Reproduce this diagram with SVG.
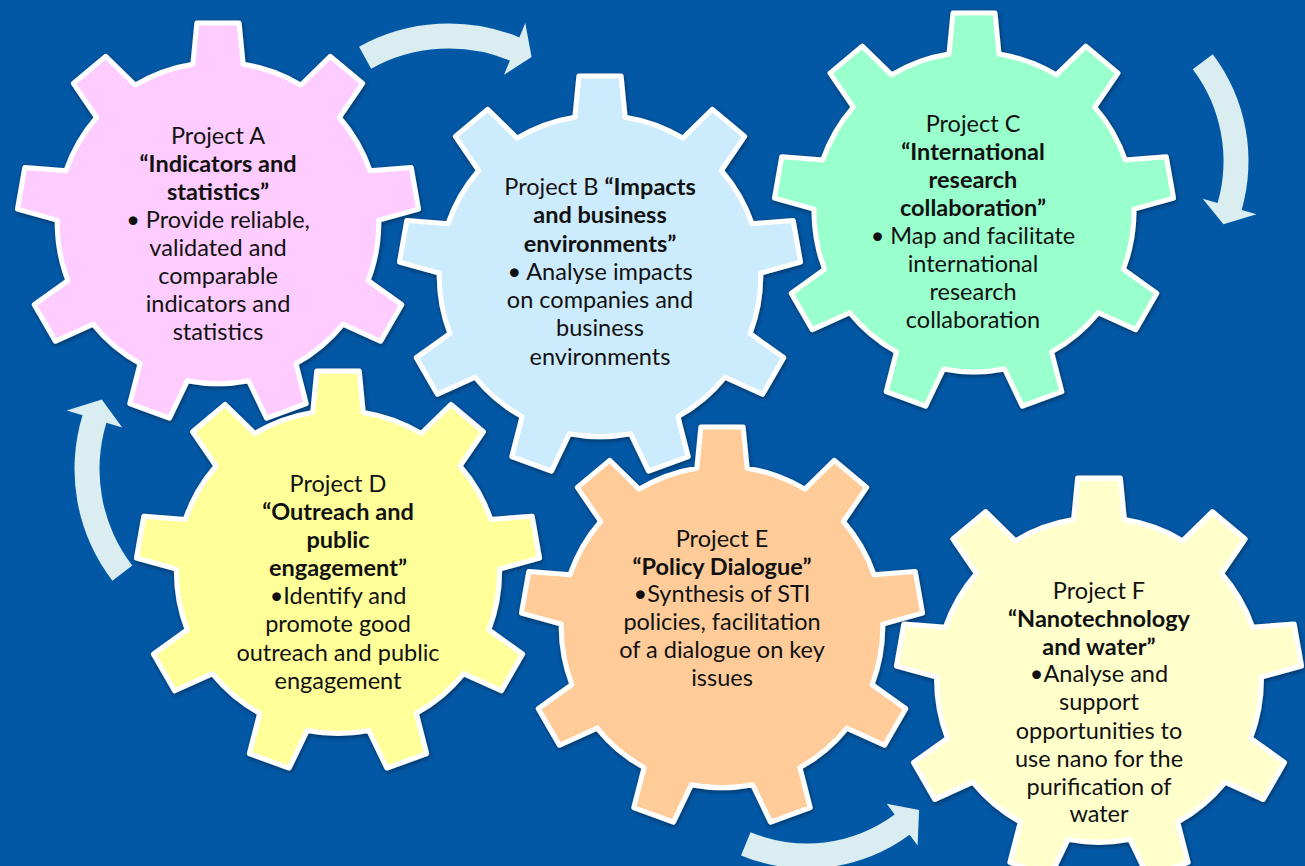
<svg xmlns="http://www.w3.org/2000/svg" width="1305" height="866" viewBox="0 0 1305 866">
<defs>
<style>
.bg{fill:#0358A6}
.gear{stroke:#ffffff;stroke-width:2.5;stroke-linejoin:round;filter:url(#sh)}
.t{font-family:Lato,'Liberation Sans',sans-serif;font-size:23.5px;fill:#111;text-anchor:middle}
.b{font-weight:bold}
.arrow{fill:#DAEDF1}
</style>
<filter id="sh" x="-10%" y="-10%" width="120%" height="120%">
<feDropShadow dx="0.4" dy="0.8" stdDeviation="1.2" flood-color="#000" flood-opacity="0.45"/>
</filter>
<path id="g" d="M-12.5,-79 L-10.5,-99.45 L10.5,-99.45 L12.5,-79 A80,80 0 0 1 41.2,-68.55 L55.88,-82.93 L71.97,-69.43 L60.36,-52.48 A80,80 0 0 1 75.63,-26.03 L96.12,-27.61 L99.76,-6.93 L79.97,-1.41 A80,80 0 0 1 74.67,28.67 L91.38,40.63 L80.88,58.82 L62.17,50.33 A80,80 0 0 1 38.77,69.96 L43.88,89.86 L24.15,97.04 L15.27,78.51 A80,80 0 0 1 -15.27,78.51 L-24.15,97.04 L-43.88,89.86 L-38.77,69.96 A80,80 0 0 1 -62.17,50.33 L-80.88,58.82 L-91.38,40.63 L-74.67,28.67 A80,80 0 0 1 -79.97,-1.41 L-99.76,-6.93 L-96.12,-27.61 L-75.63,-26.03 A80,80 0 0 1 -60.36,-52.48 L-71.97,-69.43 L-55.88,-82.93 L-41.2,-68.55 A80,80 0 0 1 -12.5,-79 Z"/>
</defs>
<rect class="bg" x="0" y="0" width="1305" height="866"/>

<g id="gear-a">
<use href="#g" class="gear" fill="#FFCCFF" transform="translate(218,223) scale(2.01)"/>
<text class="t" x="218" y="144">Project A</text>
<text class="t b" x="218" y="172">“Indicators and</text>
<text class="t b" x="218" y="200">statistics”</text>
<text class="t" x="218" y="228">• Provide reliable,</text>
<text class="t" x="218" y="256">validated and</text>
<text class="t" x="218" y="284">comparable</text>
<text class="t" x="218" y="312">indicators and</text>
<text class="t" x="218" y="340">statistics</text>
</g>

<g id="gear-b">
<use href="#g" class="gear" fill="#CCEBFD" transform="translate(600,276) scale(2.01)"/>
<text class="t" x="600" y="195">Project B <tspan class="b">“Impacts</tspan></text>
<text class="t b" x="600" y="223">and business</text>
<text class="t b" x="600" y="252">environments”</text>
<text class="t" x="600" y="280">• Analyse impacts</text>
<text class="t" x="600" y="308">on companies and</text>
<text class="t" x="600" y="336">business</text>
<text class="t" x="600" y="365">environments</text>
</g>

<g id="gear-c">
<use href="#g" class="gear" fill="#99FFCC" transform="translate(974,212) scale(2.0)"/>
<text class="t" x="973" y="132">Project C</text>
<text class="t b" x="973" y="160">“International</text>
<text class="t b" x="973" y="188">research</text>
<text class="t b" x="973" y="216">collaboration”</text>
<text class="t" x="973" y="244">• Map and facilitate</text>
<text class="t" x="973" y="272">international</text>
<text class="t" x="973" y="300">research</text>
<text class="t" x="973" y="328">collaboration</text>
</g>

<g id="gear-d">
<use href="#g" class="gear" fill="#FFFF99" transform="translate(338,572) scale(2.02)"/>
<text class="t" x="338" y="492">Project D</text>
<text class="t b" x="338" y="520">“Outreach and</text>
<text class="t b" x="338" y="548">public</text>
<text class="t b" x="338" y="576">engagement”</text>
<text class="t" x="338" y="604">•Identify and</text>
<text class="t" x="338" y="632">promote good</text>
<text class="t" x="338" y="661">outreach and public</text>
<text class="t" x="338" y="689">engagement</text>
</g>

<g id="gear-e">
<use href="#g" class="gear" fill="#FFCC99" transform="translate(722,627) scale(2.01)"/>
<text class="t" x="722" y="547">Project E</text>
<text class="t b" x="722" y="575">“Policy Dialogue”</text>
<text class="t" x="722" y="602">•Synthesis of STI</text>
<text class="t" x="722" y="630">policies, facilitation</text>
<text class="t" x="722" y="658">of a dialogue on key</text>
<text class="t" x="722" y="686">issues</text>
</g>

<g id="gear-f">
<use href="#g" class="gear" fill="#FFFFCC" transform="translate(1099,680) scale(2.03)"/>
<text class="t" x="1099" y="599">Project F</text>
<text class="t b" x="1099" y="627">“Nanotechnology</text>
<text class="t b" x="1099" y="655">and water”</text>
<text class="t" x="1099" y="682">•Analyse and</text>
<text class="t" x="1099" y="710">support</text>
<text class="t" x="1099" y="739">opportunities to</text>
<text class="t" x="1099" y="767">use nano for the</text>
<text class="t" x="1099" y="795">purification of</text>
<text class="t" x="1099" y="822">water</text>
</g>

<g id="connectors">
<path class="arrow" d="M359.07,46.76 A185.5,185.5 0 0 1 519.4,37.38 L525.28,23.03 L531.56,56.97 L504.03,74.85 L509.91,60.51 A160.5,160.5 0 0 0 371.19,68.63 Z"/>
<path class="arrow" d="M1212.75,54.18 A177.5,177.5 0 0 1 1241.63,209.92 L1256.53,214.19 L1223.44,224.14 L1202.7,198.76 L1217.6,203.03 A152.5,152.5 0 0 0 1192.79,69.23 Z"/>
<path class="arrow" d="M112.41,580.71 A183.5,183.5 0 0 1 82.52,415.34 L66.74,410.52 L101.79,399.45 L122.21,427.48 L106.43,422.65 A158.5,158.5 0 0 0 132.25,565.49 Z"/>
<path class="arrow" d="M741,855.4 A172.5,172.5 0 0 0 909.6,834.7 L917.6,845.5 L919.1,810.1 L886.7,803.7 L894.7,814.6 A147.5,147.5 0 0 1 750.6,832.3 Z"/>
</g>
</svg>
